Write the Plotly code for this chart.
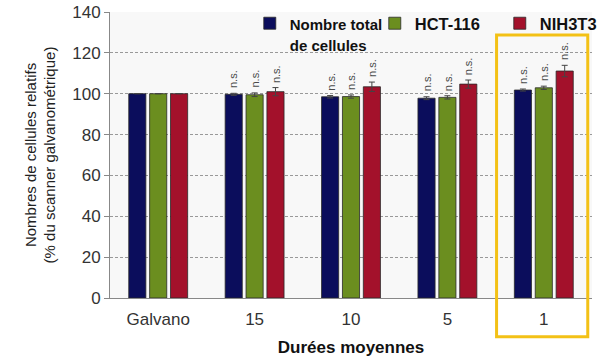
import plotly.graph_objects as go

categories = ["Galvano", "15", "10", "5", "1"]
series_names = ["<span style='font-size:15px'>Nombre total<br>de cellules</span>", "HCT-116", "NIH3T3"]
total_vals = [100, 99.7, 98.5, 97.8, 101.8]
hct_vals = [100, 99.5, 98.6, 98.2, 102.9]
nih_vals = [100, 101.0, 103.4, 104.7, 111.1]
total_err = [0, 0.5, 0.6, 0.7, 0.5]
hct_err = [0, 0.9, 0.8, 0.8, 0.8]
nih_err = [0, 2.0, 2.3, 2.0, 2.8]
colors = ["#0b0d5c", "#6b8e1f", "#a3112b"]
sig_label = "n.s."
highlight = "1"

values = [total_vals, hct_vals, nih_vals]
errors = [total_err, hct_err, nih_err]

bargap = 0.35
bargroupgap = 0.18
n_tr = len(values)

fig = go.Figure()
for name, v, e, c in zip(series_names, values, errors, colors):
    fig.add_trace(go.Bar(
        x=categories, y=v, name=name,
        marker=dict(color=c, line=dict(color="#2a2a2a", width=0.8)),
        error_y=dict(type="data", array=[x if x > 0 else None for x in e],
                     visible=True, color="#444444", thickness=1, width=3),
    ))

annotations = []
slot = (1 - bargap) / n_tr
for ti, (v, e) in enumerate(zip(values, errors)):
    off = -(1 - bargap) / 2 + slot * (ti + 0.5)
    for ci, cat in enumerate(categories):
        if cat == "Galvano":
            continue
        annotations.append(dict(
            x=ci + off, y=v[ci] + e[ci], xref="x", yref="y",
            text=sig_label, showarrow=False, textangle=-90,
            xanchor="center", yanchor="middle", yshift=14,
            font=dict(family="Liberation Sans, Arial, sans-serif", size=11, color="#4a4a4a"),
        ))

hi = categories.index(highlight)
ncat = len(categories)
fig.add_shape(type="rect", xref="x domain", yref="y domain",
              x0=(hi - 0.49 + 0.5) / ncat, x1=(hi + 0.456 + 0.5) / ncat,
              y0=-19 / 140, y1=128.7 / 140,
              line=dict(color="#f3c116", width=3), fillcolor="rgba(0,0,0,0)", layer="above")

fig.update_layout(
    width=600, height=360,
    margin=dict(l=110, r=8, t=12, b=62, autoexpand=False),
    paper_bgcolor="white", plot_bgcolor="#f8f8f8",
    barmode="group", bargap=bargap, bargroupgap=bargroupgap,
    font=dict(family="Liberation Sans, Arial, sans-serif", color="#333333"),
    annotations=annotations,
    legend=dict(orientation="h", x=0.29, y=1.021, xanchor="left", yanchor="top",
                bgcolor="rgba(0,0,0,0)", valign="top",
                font=dict(size=16.5, color="#111111", family="Liberation Sans, Arial, sans-serif", weight="bold"),
                itemwidth=30, tracegroupgap=0, entrywidth=80),
    xaxis=dict(
        automargin=False,
        showline=True, linecolor="#888888", linewidth=1, ticks="",
        tickfont=dict(size=17, color="#333333"), ticklabelstandoff=6,
        title=dict(text="<b>Durées moyennes</b>", font=dict(size=17, color="#111111"), standoff=12),
    ),
    yaxis=dict(
        automargin=False,
        range=[0, 140], dtick=20, showline=True, linecolor="#888888", linewidth=1,
        ticks="outside", ticklen=5, tickcolor="#888888",
        showgrid=True, gridcolor="#999999", griddash="3px,2px", gridwidth=1,
        zeroline=False,
        tickfont=dict(size=17, color="#333333"),
        title=dict(text="Nombres de cellules relatifs<br>(% du scanner galvanométrique)",
                   font=dict(size=15, color="#222222"), standoff=12),
    ),
)

fig.write_html("out.html", config={"displayModeBar": False},
               post_script="document.body.style.margin='0';")
